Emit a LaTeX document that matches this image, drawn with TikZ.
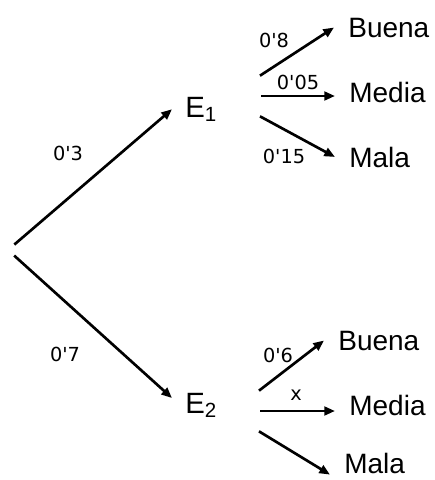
\documentclass[tikz,border=0pt]{standalone}
\usepackage{fontspec}
\setmainfont{Liberation Sans}
\newfontfamily\lblfont{DejaVu Sans}
\usetikzlibrary{arrows.meta}
\newcommand{\apos}{\textquotesingle}

\begin{document}
\begin{tikzpicture}[->,>={Triangle[length=8pt,width=6.5pt]},line width=2pt,
                    x=0.75pt,y=-0.75pt,
                    root/.style={circle,inner sep=0pt,minimum size=10.5pt},
                    state/.style={font=\fontsize{22}{26}\selectfont,inner sep=9pt,anchor=base west},
                    outcome/.style={font=\fontsize{21}{25}\selectfont,inner xsep=9.75pt,inner ysep=0pt,anchor=base west},
                    prob/.style={font=\lblfont\fontsize{14.5}{17}\selectfont,inner sep=0pt},
                    fork/.style={inner sep=0pt,minimum height=28.5pt,minimum width=0pt}]
  \useasboundingbox (0,0) rectangle (435,480);

  \node[root] (O) at (8,250) {};
  \node[state] (E1) at (172,117) {E\textsubscript{1}};
  \node[state] (E2) at (172,413) {E\textsubscript{2}};

  % points where the branches leave each state
  \node[fork] (F1) at (260,96) {};
  \node[fork] (F2) at (259,411) {};

  \node[outcome] (B1) at (334,37)  {Buena};
  \node[outcome] (M1) at (335,102) {Media};
  \node[outcome] (L1) at (335,167) {Mala};
  \node[outcome] (B2) at (324,350) {Buena};
  \node[outcome] (M2) at (335,415) {Media};
  \node[outcome] (L2) at (330,473) {Mala};

  \node[prob] (p03) at (68,153)  {0\apos3};
  \node[prob] (p07) at (65,354)  {0\apos7};
  \node[prob] (p08) at (274,40)  {0\apos8};
  \node[prob] (p005) at (298,82) {0\apos05};
  \node[prob] (p015) at (284,156) {0\apos15};
  \node[prob] (p06) at (278,355) {0\apos6};
  \node[prob] (px) at (296,395)  {x};

  \path (O) edge (E1.west)
            edge (E2.166)
        (F1.north) edge (B1.west)
        (F1.east)  edge (F1.east -| M1.west)
        (F1.south) edge (L1.west)
        (F2.north) edge (B2.west)
        (F2.east)  edge (F2.east -| M2.west)
        (F2.south) edge (L2.south west);
\end{tikzpicture}
\end{document}
